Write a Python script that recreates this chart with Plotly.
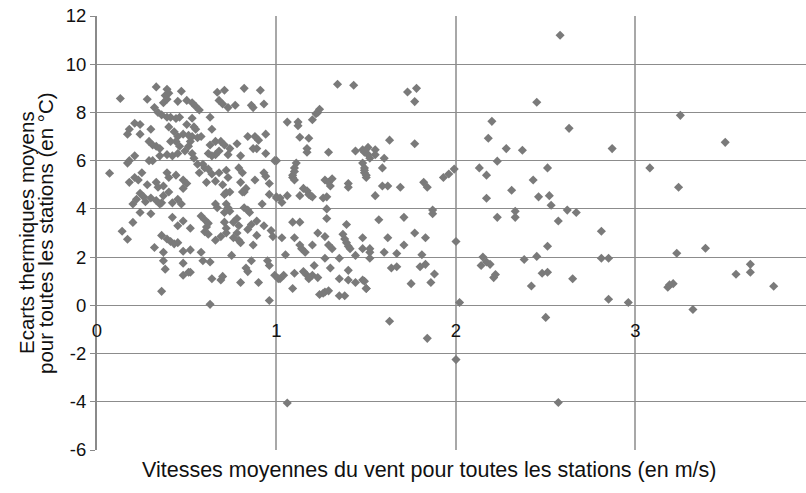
import plotly.graph_objects as go

# Mean wind speed (m/s) and mean temperature spread (°C) per station
wind_speed = [
    0.13, 0.33, 0.39, 0.47, 0.28, 0.37, 0.38, 0.40, 0.39, 0.45, 0.32, 0.34, 0.36, 0.50,
    0.39, 0.41, 0.44, 0.46, 0.21, 0.24, 0.18, 0.17, 0.30, 0.24, 0.40, 0.43, 0.45, 0.48, 0.50,
    0.29, 0.31, 0.33, 0.35, 0.41, 0.44, 0.46, 0.49, 0.39, 0.42, 0.45, 0.35, 0.21, 0.18, 0.17,
    0.29, 0.31, 0.07, 0.25, 0.21, 0.18, 0.23, 0.39, 0.40, 0.44, 0.48, 0.50, 0.28, 0.33, 0.34,
    0.37, 0.48,
    0.67, 0.71, 0.82, 0.91, 0.68, 0.70, 0.73, 0.77, 0.86, 0.87, 0.93, 0.53, 0.55, 0.57,
    0.53, 0.63, 0.54, 0.55, 0.64, 0.51, 0.53, 0.56, 0.58, 0.84, 0.88, 0.94, 0.63, 0.66, 0.69,
    0.71, 0.78, 0.90, 0.89, 0.87, 0.52, 0.51, 0.53, 0.54, 0.62, 0.64, 0.66, 0.68, 0.73, 0.74,
    0.80, 0.94, 0.99, 0.56, 0.59, 0.60, 0.62, 0.57, 0.64, 0.68, 0.72, 0.79, 0.81, 0.93, 0.94,
    0.61, 0.66, 0.70, 0.73, 0.80, 0.83, 0.88, 0.96, 0.72, 0.82,
    0.24, 0.26, 0.22, 0.20, 0.27, 0.30, 0.33, 0.35, 0.37, 0.40, 0.36, 0.42, 0.45, 0.47,
    0.24, 0.30, 0.42, 0.48, 0.20, 0.45, 0.14, 0.17, 0.36, 0.39, 0.41, 0.43, 0.45, 0.32, 0.37,
    0.37, 0.38, 0.48, 0.48, 0.48, 0.51, 0.36,
    0.71, 0.74, 0.81, 0.96, 1.00, 0.66, 0.67, 0.72, 0.73, 0.74, 0.71, 0.82, 0.84, 0.85, 0.92,
    0.58, 0.60, 0.61, 0.62, 0.60, 0.62, 0.52, 0.71, 0.72, 0.72, 0.76, 0.78, 0.79, 0.78, 0.76,
    0.79, 0.80, 0.84, 0.86, 0.89, 0.93, 0.97, 0.98, 0.89, 0.87, 0.66, 0.69, 0.52, 0.58, 0.59,
    0.63, 0.75, 0.86, 0.83, 0.84, 0.95, 0.96, 0.99, 1.02, 0.52, 0.64, 0.69, 0.70, 0.80, 0.90,
    0.63, 0.96,
    1.34, 1.43, 1.24, 1.23, 1.22, 1.20, 1.06, 1.12, 1.12, 1.13, 1.18, 1.17, 1.17, 1.29,
    1.44, 1.48, 1.51, 1.00, 1.11, 1.10, 1.10, 1.09, 1.09, 1.10, 1.48, 1.49, 1.49, 1.50,
    1.27, 1.29, 1.30, 1.31, 1.40, 1.40, 1.15, 1.17, 1.18, 1.20, 1.06, 1.00, 1.02, 1.28,
    1.03, 1.13, 1.19, 1.26, 1.28, 1.28, 1.09, 1.13, 1.39, 1.03, 1.10, 1.13, 1.14, 1.16, 1.20,
    1.23, 1.27, 1.29, 1.31, 1.37, 1.38, 1.39, 1.40, 1.41, 1.48, 1.48, 1.44, 1.05, 1.27, 1.35,
    1.21, 1.30, 1.15, 1.17, 1.20, 1.23, 1.18, 1.10, 1.04, 1.01, 1.35, 1.40, 1.40, 1.44, 1.48,
    1.50, 1.09, 1.24, 1.26, 1.27, 1.29, 1.35, 1.38,
    1.73, 1.78, 1.77, 1.77, 1.63, 1.49, 1.51, 1.55, 1.55, 1.52, 1.60, 1.59, 1.49, 1.50,
    1.59, 1.62, 1.69, 1.82, 1.84, 1.93, 1.96, 1.99, 1.55,
    1.87, 1.87, 1.57, 1.71, 1.77, 1.83, 1.62, 1.71, 1.52, 1.52, 1.52, 1.60, 1.67, 1.81,
    1.64, 1.67, 1.80, 1.83, 1.88, 1.75, 1.86, 1.49, 1.50, 2.00, 2.02, 1.63, 1.84, 2.00, 1.06,
    2.58, 2.45, 2.20, 2.63, 2.18, 2.28, 2.37, 2.87, 2.23, 2.13, 2.17, 2.51, 2.43, 2.31,
    2.17, 2.46, 2.52,
    2.53, 2.62, 2.67, 2.33, 2.33, 2.23, 2.57, 2.81, 2.51, 2.15, 2.14, 2.17, 2.19, 2.21,
    2.22, 2.38, 2.45, 2.48, 2.51, 2.42, 2.65, 2.81, 2.85, 2.85, 2.96, 2.50, 2.57,
    3.25, 3.50, 3.08, 3.24, 3.23, 3.39, 3.56, 3.64, 3.64, 3.77, 3.18, 3.19, 3.21, 3.32,
]

temp_spread = [
    8.58, 9.06, 8.96, 8.88, 8.55, 8.40, 8.70, 8.80, 8.55, 8.46, 8.20, 8.00, 7.90, 8.50,
    7.80, 7.80, 7.75, 7.80, 7.55, 7.50, 7.30, 7.10, 7.30, 7.10, 7.40, 7.20, 7.00, 7.10, 7.50,
    6.80, 6.65, 6.60, 6.50, 6.80, 6.80, 6.60, 6.40, 6.25, 6.20, 6.30, 6.20, 6.20, 6.00, 5.90,
    6.00, 6.00, 5.48, 5.50, 5.30, 5.10, 5.20, 5.50, 5.30, 5.40, 5.20, 5.05, 5.00, 5.10, 4.90,
    4.95, 4.85,
    8.84, 8.92, 9.00, 8.92, 8.50, 8.35, 8.20, 8.30, 8.30, 8.20, 8.35, 8.40, 8.25, 8.10,
    7.76, 7.80, 7.40, 7.30, 7.30, 7.05, 7.00, 6.95, 7.00, 7.00, 7.00, 7.10, 6.65, 6.80, 6.80,
    6.65, 6.70, 6.85, 6.50, 6.50, 6.80, 6.60, 6.30, 6.10, 6.30, 6.20, 6.25, 6.40, 6.25, 6.50,
    6.20, 6.30, 6.00, 5.85, 5.85, 5.70, 5.65, 5.50, 5.45, 5.50, 5.60, 5.70, 5.50, 5.50, 5.35,
    5.10, 5.15, 5.00, 5.30, 5.10, 4.85, 5.20, 5.05, 4.68, 4.70,
    4.65, 4.50, 4.40, 4.20, 4.30, 4.45, 4.35, 4.20, 4.55, 4.70, 4.25, 4.25, 4.40, 4.20,
    3.85, 3.80, 3.65, 3.50, 3.44, 3.30, 3.07, 2.74, 2.90, 2.75, 2.65, 2.55, 2.60, 2.40, 2.20,
    1.85, 1.50, 2.24, 1.75, 1.25, 1.37, 0.58,
    4.60, 4.70, 4.70, 4.60, 4.50, 4.20, 4.05, 4.20, 4.05, 3.90, 3.85, 4.05, 3.95, 3.85, 4.20,
    3.70, 3.55, 3.25, 3.40, 3.05, 2.95, 3.20, 3.45, 3.20, 3.00, 3.45, 3.60, 3.30, 3.00, 2.80,
    2.70, 2.60, 3.15, 3.35, 3.50, 3.30, 3.10, 2.85, 2.90, 2.50, 2.70, 2.85, 2.30, 2.20, 1.85,
    1.80, 2.07, 1.85, 1.55, 1.40, 1.85, 1.65, 1.25, 1.10, 1.37, 1.10, 1.05, 1.20, 0.95, 0.95,
    0.04, 0.20,
    9.17, 9.13, 8.13, 8.00, 7.95, 7.70, 7.60, 7.60, 7.45, 6.97, 6.93, 6.50, 6.35, 6.35,
    6.40, 6.45, 6.55, 6.00, 5.90, 5.70, 5.55, 5.40, 5.30, 5.20, 5.90, 5.70, 5.50, 5.30,
    5.20, 5.10, 4.95, 5.25, 5.05, 4.90, 4.85, 4.75, 4.60, 4.50, 4.55, 4.45, 4.45, 4.50,
    4.27, 4.55, 4.55, 4.45, 4.00, 3.60, 3.45, 3.45, 3.35, 2.80, 2.80, 2.50, 2.35, 2.20, 2.50,
    3.00, 2.85, 2.50, 2.35, 2.95, 2.75, 2.60, 2.45, 2.35, 2.80, 2.35, 2.07, 2.10, 1.95, 1.95,
    1.65, 1.55, 1.40, 1.25, 1.25, 1.15, 1.10, 1.33, 1.25, 1.10, 1.10, 1.45, 1.05, 0.95, 1.05,
    0.70, 0.70, 0.45, 0.50, 0.55, 0.60, 0.40, 0.40,
    8.85, 9.00, 8.45, 6.70, 6.85, 6.35, 6.25, 6.45, 6.25, 6.10, 6.10, 5.70, 5.60, 5.40,
    4.95, 4.95, 4.90, 5.10, 4.90, 5.30, 5.45, 5.65, 4.55,
    3.95, 3.80, 3.55, 3.65, 3.00, 2.80, 2.80, 2.50, 2.35, 2.20, 1.95, 2.20, 2.15, 2.10,
    1.55, 1.60, 1.60, 1.70, 1.30, 0.90, 0.95, 1.00, 0.70, 2.65, 0.12, -0.66, -1.37, -2.25, -4.05,
    11.20, 8.42, 7.63, 7.34, 6.93, 6.50, 6.43, 6.50, 5.98, 5.70, 5.40, 5.70, 5.20, 4.77,
    4.44, 4.50, 4.55,
    4.15, 3.95, 3.85, 3.90, 3.65, 3.65, 3.50, 3.07, 2.45, 2.00, 1.65, 1.80, 1.70, 1.15,
    1.28, 1.90, 2.03, 1.33, 1.37, 0.80, 1.10, 1.95, 1.95, 0.25, 0.12, -0.50, -4.03,
    7.88, 6.76, 5.70, 4.90, 2.16, 2.37, 1.29, 1.70, 1.37, 0.79, 0.75, 0.85, 0.90, -0.17,
]

x_ticks = [0, 1, 2, 3]
y_ticks = [-6, -4, -2, 0, 2, 4, 6, 8, 10, 12]

x_title = "Vitesses moyennes du vent pour toutes les stations (en m/s)"
y_title_lines = ["Ecarts thermiques moyens", "pour toutes les stations (en °C)"]

FONT = "Liberation Sans, Arial, Helvetica, sans-serif"
POINT_COLOR = "#7a7a7a"
TEXT_COLOR = "#111111"

fig = go.Figure(
    go.Scatter(
        x=wind_speed,
        y=temp_spread,
        mode="markers",
        marker=dict(symbol="diamond", size=7, color=POINT_COLOR, line=dict(width=0)),
        hoverinfo="x+y",
    )
)

# Rotated y-axis title, one annotation per line for a tight line spacing
y_title_annotations = [
    dict(
        text=line,
        textangle=-90,
        xref="paper",
        yref="paper",
        x=0,
        y=0.5,
        xanchor="center",
        yanchor="middle",
        xshift=shift,
        showarrow=False,
        font=dict(size=20.5, color=TEXT_COLOR),
    )
    for line, shift in zip(y_title_lines, [-71, -52])
]

fig.update_layout(
    width=806,
    height=493,
    margin=dict(l=97, r=0, t=16, b=43),
    paper_bgcolor="white",
    plot_bgcolor="white",
    showlegend=False,
    font=dict(family=FONT, size=18, color=TEXT_COLOR),
    xaxis=dict(
        range=[0, 3.95],
        tickvals=x_ticks,
        ticktext=[str(v) for v in x_ticks],
        anchor="free",
        position=1 / 3,
        showline=False,
        zeroline=False,
        showgrid=True,
        gridcolor="#a8a8a8",
        gridwidth=1.5,
        ticks="outside",
        ticklen=8,
        tickcolor="rgba(0,0,0,0)",
        tickfont=dict(size=18.5),
    ),
    yaxis=dict(
        range=[-6, 12],
        tickvals=y_ticks,
        ticktext=[str(v) for v in y_ticks],
        showline=True,
        linecolor="#8a8a8a",
        linewidth=2,
        zeroline=False,
        showgrid=True,
        gridcolor="#8c8c8c",
        gridwidth=1,
        ticks="outside",
        ticklen=5,
        tickcolor="#8a8a8a",
        tickfont=dict(size=18.5),
    ),
    annotations=[
        dict(
            text=x_title,
            xref="paper",
            yref="paper",
            x=0.4676,
            y=0,
            xanchor="center",
            yanchor="top",
            yshift=-6,
            showarrow=False,
            font=dict(size=21.5, color=TEXT_COLOR),
        )
    ]
    + y_title_annotations,
)

fig.write_html("out.html")
